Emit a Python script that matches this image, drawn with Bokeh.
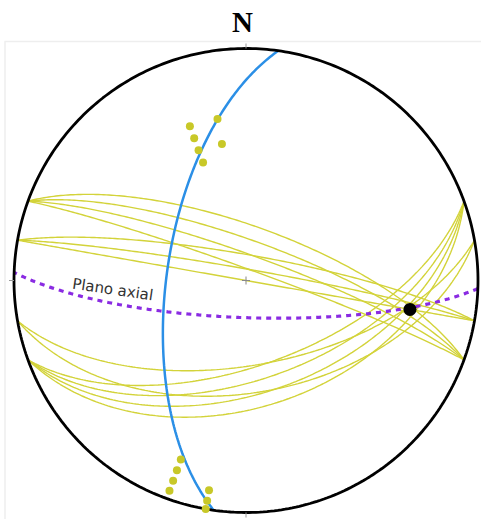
import numpy as np
from bokeh.plotting import figure
from bokeh.models import Range1d
from bokeh.core.properties import value
from bokeh.embed import file_html
from bokeh.resources import INLINE

# --- data ---
# yellow bedding / limb planes: dip direction (deg) and dip (deg)
limb_dipdir = [160, 160, 160, 160, 170, 170, 20, 20, 20, 20, 10, 10, 10]
limb_dip = [60, 55, 50, 45, 60, 50, 71, 76, 81, 86, 81, 86, 90]
# pi-circle (blue)
pi_dipdir = [278]
pi_dip = [62]
# axial plane (purple dashed)
axial_dipdir = [182]
axial_dip = [77]
# fold axis (black point): trend, plunge
axis_trend = [100]
axis_plunge = [29]
axial_label = "Plano axial"
north_label = "N"

R = 232.0
W, H = 481, 519
cx_pix, cy_pix = 245.5, 280.0  # circle centre in canvas pixels


def project(trend, plunge):
    t = np.radians(np.asarray(trend, float))
    p = np.radians(np.asarray(plunge, float))
    r = np.sqrt(2.0) * np.sin((np.pi / 2 - p) / 2.0)
    return r * np.sin(t), r * np.cos(t)


def great_circle(dd, dip, n=181):
    d = np.radians(dd)
    s = d - np.pi / 2
    dp = np.radians(dip)
    sv = np.array([np.sin(s), np.cos(s), 0.0])
    dv = np.array([np.sin(d) * np.cos(dp), np.cos(d) * np.cos(dp), -np.sin(dp)])
    a = np.linspace(0, np.pi, n)
    v = np.outer(np.cos(a), sv) + np.outer(np.sin(a), dv)
    plunge = np.degrees(np.arcsin(np.clip(-v[:, 2], -1, 1)))
    trend = np.degrees(np.arctan2(v[:, 0], v[:, 1]))
    return project(trend, plunge)


def px2x(x):
    return (x - cx_pix) / R


def px2y(y):
    return (cy_pix - y) / R


p = figure(width=W, height=H, output_backend="svg", toolbar_location=None,
           x_range=Range1d(px2x(0), px2x(W)),
           y_range=Range1d(px2y(H), px2y(0)),
           min_border=0, outline_line_color=None)
p.axis.visible = False
p.grid.visible = False
p.background_fill_color = "white"

# faint frame of the net area
p.segment(x0=[px2x(4), px2x(4.5)], y0=[px2y(41), px2y(41)],
          x1=[px2x(W), px2x(4.5)], y1=[px2y(41), px2y(H)],
          line_color="#eeeeee", line_width=1.5)

# yellow great circles
xs, ys = [], []
for dd, dip in zip(limb_dipdir, limb_dip):
    gx, gy = great_circle(dd, dip)
    xs.append(list(gx)); ys.append(list(gy))
p.multi_line(xs, ys, line_color="#d3d33a", line_width=1.4)

# blue pi circle
for dd, dip in zip(pi_dipdir, pi_dip):
    gx, gy = great_circle(dd, dip)
    p.line(gx, gy, line_color="#2b8fe6", line_width=2.5)

# axial plane dashed
for dd, dip in zip(axial_dipdir, axial_dip):
    gx, gy = great_circle(dd, dip)
    p.line(gx, gy, line_color="#8a2be2", line_width=3.2, line_dash="5 5")

# primitive circle
th = np.linspace(0, 2 * np.pi, 400)
p.line(np.cos(th), np.sin(th), line_color="black", line_width=2.8)

# ticks and centre cross
t = 5.0 / R
p.segment(x0=[0, -1 - t, 0], y0=[1, 0, -1], x1=[0, -1, 0], y1=[1 + t, 0, -1 - t],
          line_color="#999999", line_width=1)
c = 4.0 / R
p.segment(x0=[-c, 0], y0=[0, -c], x1=[c, 0], y1=[0, c], line_color="#888888", line_width=1)

# poles to yellow planes
ptrend = [(d + 180) % 360 for d in limb_dipdir]
pplunge = [90 - d for d in limb_dip]
px, py = project(ptrend, pplunge)
p.scatter(px, py, size=8, fill_color="#c8c828", line_color=None)

# fold axis
ax, ay = project(axis_trend, axis_plunge)
p.scatter(ax, ay, size=13, fill_color="black", line_color=None)

# label on axial plane
p.text(x=[px2x(72)], y=[px2y(283)], text=[axial_label], angle=-0.148,
       text_font=value("DejaVu Sans"), text_font_size="15px", text_color="#333333",
       text_align="left", text_baseline="alphabetic")

# north label
p.text(x=[px2x(242)], y=[px2y(21)], text=[north_label],
       text_font=value("Liberation Serif"), text_font_style="bold", text_font_size="29px",
       text_color="black", text_align="center", text_baseline="middle")

open("out.html", "w").write(file_html(p, INLINE))
